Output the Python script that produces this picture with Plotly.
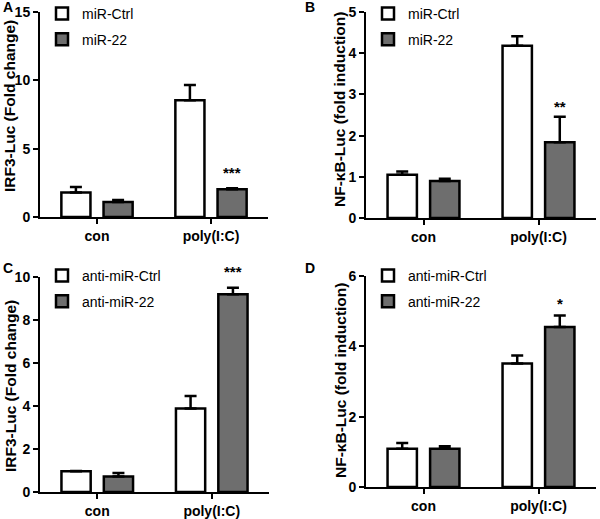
import plotly.graph_objects as go

categories = ["con", "poly(I:C)"]

# Panel A
a_ctrl = [1.8, 8.55]
a_ctrl_err = [0.4, 1.1]
a_mir = [1.1, 2.03]
a_mir_err = [0.15, 0.07]
# Panel B
b_ctrl = [1.05, 4.18]
b_ctrl_err = [0.08, 0.23]
b_mir = [0.9, 1.84]
b_mir_err = [0.05, 0.62]
# Panel C
c_ctrl = [0.96, 3.88]
c_ctrl_err = [0.02, 0.59]
c_anti = [0.72, 9.2]
c_anti_err = [0.16, 0.3]
# Panel D
d_ctrl = [1.09, 3.51]
d_ctrl_err = [0.16, 0.23]
d_anti = [1.09, 4.55]
d_anti_err = [0.07, 0.33]

y_ticks_a = [0, 5, 10, 15]
y_ticks_b = [0, 1, 2, 3, 4, 5]
y_ticks_c = [0, 2, 4, 6, 8, 10]
y_ticks_d = [0, 2, 4, 6]

ARIAL = "Liberation Sans, Arial, sans-serif"
GRAY = "#6e6e6e"

W, H = 600, 519

fig = go.Figure()

panels = [
    ("", "", a_ctrl, a_ctrl_err, a_mir, a_mir_err, "miR-Ctrl", "miR-22", "legend"),
    ("2", "2", b_ctrl, b_ctrl_err, b_mir, b_mir_err, "miR-Ctrl", "miR-22", "legend2"),
    ("3", "3", c_ctrl, c_ctrl_err, c_anti, c_anti_err, "anti-miR-Ctrl", "anti-miR-22", "legend3"),
    ("4", "4", d_ctrl, d_ctrl_err, d_anti, d_anti_err, "anti-miR-Ctrl", "anti-miR-22", "legend4"),
]

for xs, ys, v1, e1, v2, e2, n1, n2, lg in panels:
    for vals, errs, name, col, grp in [(v1, e1, n1, "white", lg + "a"), (v2, e2, n2, GRAY, lg + "b")]:
        fig.add_trace(go.Bar(
            x=categories, y=vals, name=name,
            xaxis="x" + xs, yaxis="y" + ys,
            marker=dict(color=col, line=dict(color="black", width=2.5)),
            error_y=dict(type="data", symmetric=False, array=errs, arrayminus=[0, 0],
                         color="black", thickness=2.5, width=6),
            legend=lg, legendgroup=grp, showlegend=True,
        ))

def px_x(a, b):
    return [a / W, b / W]

def px_y(top, bottom):
    return [1 - bottom / H, 1 - top / H]

xdoms = [px_x(40, 268), px_x(366, 596), px_x(40, 269), px_x(366, 596)]
ydoms = [px_y(12, 217), px_y(12, 218), px_y(277, 492), px_y(276, 487)]
yranges = [[0, 15], [0, 5], [0, 10], [0, 6]]
yticks = [y_ticks_a, y_ticks_b, y_ticks_c, y_ticks_d]

layout = dict(
    width=W, height=H, margin=dict(l=0, r=0, t=0, b=0, pad=0, autoexpand=False),
    paper_bgcolor="white", plot_bgcolor="white",
    barmode="group", bargap=0.26, bargroupgap=0.31,
    showlegend=True,
)

for i in range(4):
    s = "" if i == 0 else str(i + 1)
    layout["xaxis" + s] = dict(
        domain=xdoms[i], anchor="y" + s, type="category", range=[-0.5, 1.5],
        showline=True, linecolor="black", linewidth=2,
        ticks="outside", ticklen=5, tickwidth=2, tickcolor="black",
        tickfont=dict(family=ARIAL, size=14, color="black", weight="bold"),
        showgrid=False, zeroline=False, fixedrange=True, automargin=False,
    )
    layout["yaxis" + s] = dict(
        domain=ydoms[i], anchor="x" + s, range=yranges[i], tickvals=yticks[i],
        showline=True, linecolor="black", linewidth=2,
        ticks="outside", ticklen=5, tickwidth=2, tickcolor="black",
        tickfont=dict(family=ARIAL, size=14, color="black", weight="bold"),
        showgrid=False, zeroline=False, fixedrange=True, automargin=False,
    )

leg_pos = [(42, -2), (368, -2), (42, 260), (368, 260)]
for i, (lx, ly) in enumerate(leg_pos):
    key = "legend" if i == 0 else "legend" + str(i + 1)
    layout[key] = dict(
        x=lx / W, y=1 - ly / H, xanchor="left", yanchor="top",
        bgcolor="rgba(0,0,0,0)", borderwidth=0,
        font=dict(family=ARIAL, size=14, color="black"),
        tracegroupgap=4.5, traceorder="grouped",
    )

fig.update_layout(**layout)

# y-axis titles
titles = [
    ("IRF3-Luc (Fold change)", 10, 106),
    ("NF-\u03baB-Luc (fold induction)", 340, 110),
    ("IRF3-Luc (Fold change)", 10, 386),
    ("NF-\u03baB-Luc (fold induction)", 340, 381),
]
for t, x, y in titles:
    fig.add_annotation(text=t, x=x / W, y=1 - y / H, xref="paper", yref="paper",
                       textangle=-90, showarrow=False, xanchor="center", yanchor="middle",
                       font=dict(family=ARIAL, size=15.5, color="black", weight="bold"))

# panel letters
for t, x, y in [("A", 8, 7), ("B", 310, 7), ("C", 8, 268), ("D", 310, 268)]:
    fig.add_annotation(text=t, x=x / W, y=1 - y / H, xref="paper", yref="paper",
                       showarrow=False, xanchor="center", yanchor="middle",
                       font=dict(family=ARIAL, size=14, color="black", weight="bold"))

# significance marks (y given as fraction of each plot's height)
sig = [("***", "", 0.215), ("**", "2", 0.54), ("***", "3", 1.024), ("*", "4", 0.87)]
for t, s, yv in sig:
    fig.add_annotation(text=t, x=1.184, y=yv, xref="x" + s, yref="y" + s + " domain",
                       showarrow=False, xanchor="center", yanchor="middle",
                       font=dict(family=ARIAL, size=15, color="black", weight="bold"))

fig.write_html("out.html", config={"displayModeBar": False},
               post_script="document.body.style.margin='0';document.body.style.overflow='hidden';")
